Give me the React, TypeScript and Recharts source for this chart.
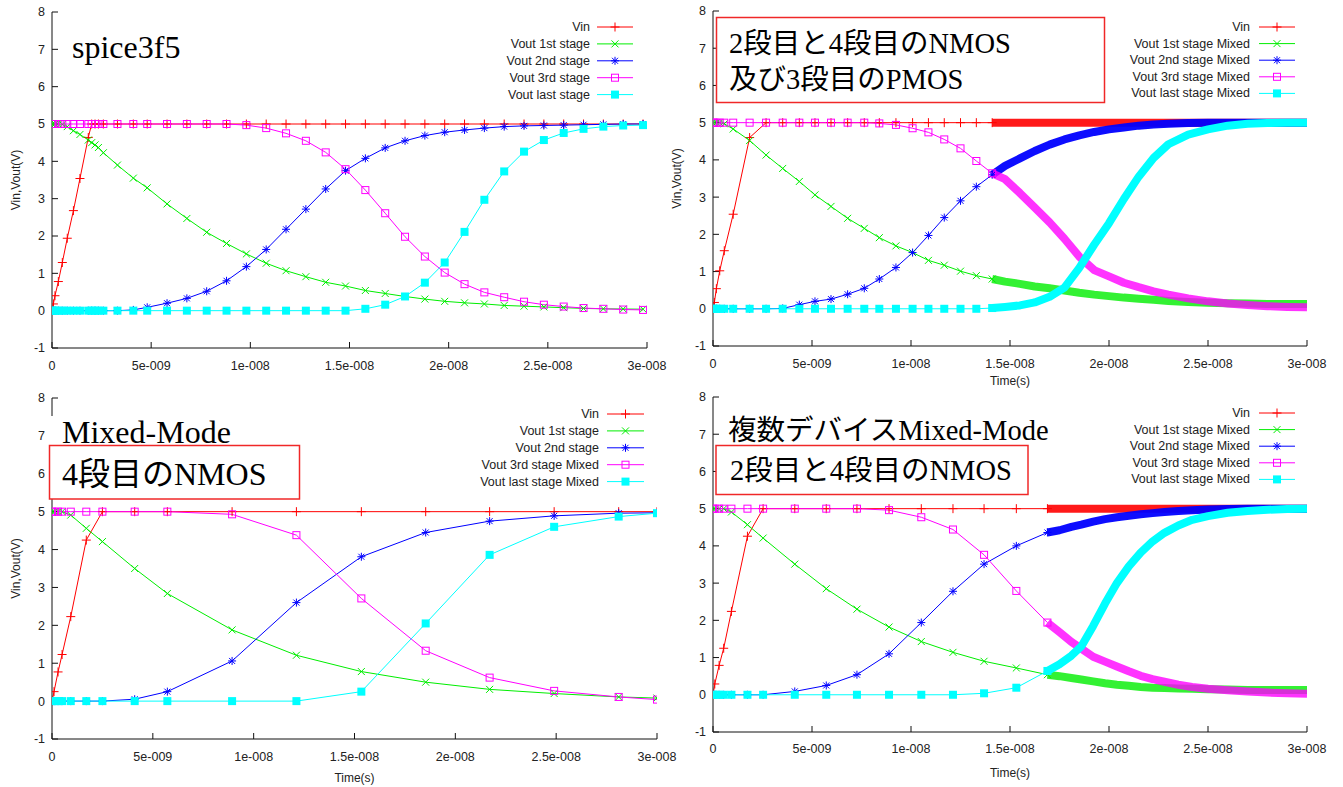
import React from "react";
import { LineChart, Line, XAxis, YAxis, Legend } from "recharts";

// time axis is in ns, labelled the way gnuplot prints seconds
const xTicks = [0, 5, 10, 15, 20, 25, 30];
const xTickLabels = ["0", "5e-009", "1e-008", "1.5e-008", "2e-008", "2.5e-008", "3e-008"];
const yTicks = [-1, 0, 1, 2, 3, 4, 5, 6, 7, 8];

const namesPlain = ["Vin", "Vout 1st stage", "Vout 2nd stage", "Vout 3rd stage", "Vout last stage"];
const namesMixed = ["Vin", "Vout 1st stage Mixed", "Vout 2nd stage Mixed", "Vout 3rd stage Mixed", "Vout last stage Mixed"];
const namesHalf = ["Vin", "Vout 1st stage", "Vout 2nd stage", "Vout 3rd stage Mixed", "Vout last stage Mixed"];

// --- spice3f5 (top left)
const tlTime = [0, 0.07, 0.15, 0.32, 0.52, 0.77, 1.08, 1.41, 1.83, 2.0, 2.17, 2.34, 2.59, 3.3, 4.1, 4.8, 5.8, 6.8, 7.8, 8.8, 9.8, 10.8, 11.8, 12.8, 13.8, 14.8, 15.8, 16.8, 17.8, 18.8, 19.8, 20.8, 21.8, 22.8, 23.8, 24.8, 25.8, 26.8, 27.8, 28.8, 29.8];
const tlVin = [0, 0.18, 0.4, 0.78, 1.29, 1.94, 2.68, 3.54, 4.64, 5, 5, 5, 5, 5, 5, 5, 5, 5, 5, 5, 5, 5, 5, 5, 5, 5, 5, 5, 5, 5, 5, 5, 5, 5, 5, 5, 5, 5, 5, 5, 5];
const tlV1 = [5, 5, 5, 5, 4.99, 4.93, 4.82, 4.72, 4.57, 4.5, 4.44, 4.37, 4.23, 3.9, 3.55, 3.29, 2.86, 2.47, 2.1, 1.8, 1.52, 1.27, 1.07, 0.91, 0.76, 0.66, 0.54, 0.46, 0.38, 0.31, 0.25, 0.21, 0.18, 0.14, 0.12, 0.1, 0.08, 0.06, 0.05, 0.045, 0.04];
const tlV2 = [0, 0, 0, 0, 0, 0, 0, 0, 0, 0, 0, 0, 0, 0, 0.02, 0.09, 0.2, 0.33, 0.52, 0.8, 1.18, 1.64, 2.18, 2.72, 3.26, 3.75, 4.08, 4.36, 4.55, 4.69, 4.78, 4.84, 4.89, 4.93, 4.95, 4.96, 4.97, 4.98, 4.99, 5, 5];
const tlV3 = [5, 5, 5, 5, 5, 5, 5, 5, 5, 5, 5, 5, 5, 5, 5, 5, 5, 5, 5, 5, 4.97, 4.89, 4.75, 4.55, 4.24, 3.79, 3.23, 2.61, 1.98, 1.45, 1.02, 0.71, 0.49, 0.36, 0.24, 0.16, 0.11, 0.07, 0.05, 0.03, 0.02];
const tlV4 = [0, 0, 0, 0, 0, 0, 0, 0, 0, 0, 0, 0, 0, 0, 0, 0, 0, 0, 0, 0, 0, 0, 0, 0, 0, 0, 0.05, 0.16, 0.38, 0.75, 1.29, 2.11, 2.97, 3.73, 4.26, 4.57, 4.76, 4.87, 4.93, 4.96, 4.97];

// --- NMOS 2,4 + PMOS 3 mixed (top right)
const trTime = [0, 0.07, 0.17, 0.34, 0.57, 1.02, 1.85, 2.68, 3.52, 4.36, 5.15, 5.96, 6.8, 7.64, 8.4, 9.24, 10.08, 10.88, 11.68, 12.5, 13.3, 14.1];
const trVin = [0, 0.17, 0.54, 1.02, 1.56, 2.54, 4.6, 5, 5, 5, 5, 5, 5, 5, 5, 5, 5, 5, 5, 5, 5, 5];
const trV1 = [5, 5, 5, 5, 4.97, 4.83, 4.52, 4.13, 3.77, 3.42, 3.06, 2.75, 2.43, 2.16, 1.91, 1.69, 1.51, 1.3, 1.17, 1.01, 0.89, 0.8];
const trV2 = [0, 0, 0, 0, 0, 0, 0, 0, 0.01, 0.11, 0.2, 0.26, 0.39, 0.55, 0.8, 1.11, 1.51, 1.97, 2.45, 2.9, 3.28, 3.6];
const trV3 = [5, 5, 5, 5, 5, 5, 5, 5, 5, 5, 5, 5, 5, 5, 4.98, 4.94, 4.85, 4.74, 4.55, 4.31, 3.97, 3.64];
const trV4 = [0, 0, 0, 0, 0, 0, 0, 0, 0, 0, 0, 0, 0, 0, 0, 0, 0, 0, 0, 0, 0, 0.02];
const trDenseTime = [14.1, 14.75, 15.5, 16.25, 17, 17.75, 18.5, 19.25, 20, 20.75, 21.5, 22.25, 23, 24, 25, 26, 27, 28, 29, 30];
const trDenseVin = [5, 5, 5, 5, 5, 5, 5, 5, 5, 5, 5, 5, 5, 5, 5, 5, 5, 5, 5, 5];
const trDenseV1 = [0.8, 0.73, 0.67, 0.6, 0.55, 0.49, 0.43, 0.38, 0.34, 0.3, 0.27, 0.24, 0.21, 0.18, 0.16, 0.15, 0.14, 0.13, 0.13, 0.13];
const trDenseV2 = [3.6, 3.84, 4.04, 4.24, 4.41, 4.55, 4.66, 4.75, 4.82, 4.87, 4.92, 4.95, 4.97, 4.99, 5, 5, 5, 5, 5, 5];
const trDenseV3 = [3.64, 3.48, 3.11, 2.72, 2.32, 1.88, 1.4, 1.04, 0.87, 0.7, 0.58, 0.47, 0.38, 0.28, 0.2, 0.14, 0.1, 0.07, 0.05, 0.04];
const trDenseV4 = [0.02, 0.05, 0.09, 0.17, 0.32, 0.57, 1.1, 1.72, 2.3, 2.95, 3.55, 4.05, 4.42, 4.68, 4.82, 4.92, 4.97, 4.99, 5, 5];

// --- Mixed-Mode, NMOS 4 (bottom left)
const blTime = [0, 0.1, 0.3, 0.5, 0.93, 1.7, 2.5, 4.1, 5.72, 8.93, 12.12, 15.34, 18.53, 21.7, 24.9, 28.1, 30];
const blVin = [0, 0.25, 0.77, 1.23, 2.23, 4.25, 5, 5, 5, 5, 5, 5, 5, 5, 5, 5, 5];
const blV1 = [5, 5, 5, 5, 4.91, 4.56, 4.21, 3.5, 2.84, 1.88, 1.21, 0.78, 0.5, 0.31, 0.2, 0.11, 0.08];
const blV2 = [0, 0, 0, 0, 0, 0, 0, 0.05, 0.25, 1.06, 2.6, 3.81, 4.45, 4.75, 4.89, 4.96, 4.97];
const blV3 = [5, 5, 5, 5, 5, 5, 5, 5, 5, 4.93, 4.38, 2.71, 1.33, 0.62, 0.27, 0.11, 0.04];
const blV4 = [0, 0, 0, 0, 0, 0, 0, 0, 0, 0, 0, 0.25, 2.05, 3.86, 4.6, 4.87, 4.96];

// --- multi-device Mixed-Mode, NMOS 2,4 (bottom right)
const brTime = [0, 0.09, 0.31, 0.54, 0.93, 1.74, 2.53, 4.13, 5.72, 7.27, 8.89, 10.52, 12.12, 13.69, 15.32, 16.89];
const brVin = [0, 0.29, 0.79, 1.25, 2.24, 4.26, 5, 5, 5, 5, 5, 5, 5, 5, 5, 5];
const brV1 = [5, 5, 5, 5, 4.91, 4.57, 4.21, 3.51, 2.85, 2.3, 1.82, 1.43, 1.14, 0.9, 0.72, 0.54];
const brV2 = [0, 0, 0, 0, 0, 0, 0, 0.09, 0.25, 0.54, 1.1, 1.94, 2.78, 3.51, 4.0, 4.36];
const brV3 = [5, 5, 5, 5, 5, 5, 5, 5, 5, 5, 4.96, 4.77, 4.44, 3.76, 2.79, 1.94];
const brV4 = [0, 0, 0, 0, 0, 0, 0, 0, 0, 0, 0, 0, 0, 0.04, 0.19, 0.64];
const brDenseTime = [16.89, 17.5, 18.1, 18.6, 19.2, 19.8, 20.4, 21, 21.6, 22.2, 22.8, 23.5, 24.2, 25, 26, 27, 28, 29, 30];
const brDenseVin = [5, 5, 5, 5, 5, 5, 5, 5, 5, 5, 5, 5, 5, 5, 5, 5, 5, 5, 5];
const brDenseV1 = [0.54, 0.5, 0.45, 0.41, 0.36, 0.31, 0.27, 0.24, 0.21, 0.19, 0.18, 0.17, 0.16, 0.15, 0.14, 0.13, 0.13, 0.13, 0.13];
const brDenseV2 = [4.36, 4.42, 4.51, 4.57, 4.65, 4.72, 4.77, 4.81, 4.85, 4.88, 4.91, 4.94, 4.96, 4.98, 4.99, 5, 5, 5, 5];
const brDenseV3 = [1.94, 1.68, 1.42, 1.24, 1.02, 0.89, 0.76, 0.63, 0.51, 0.42, 0.35, 0.27, 0.21, 0.16, 0.12, 0.09, 0.06, 0.04, 0.03];
const brDenseV4 = [0.64, 0.82, 1.05, 1.3, 1.85, 2.45, 3.0, 3.45, 3.82, 4.12, 4.35, 4.55, 4.7, 4.8, 4.89, 4.94, 4.97, 4.99, 5];

const COLORS = ["#ff0000", "#00ee00", "#0000ff", "#ff00ff", "#00ffff"];
const DENSE_OPACITY = [0.9, 0.8, 0.95, 0.8, 1];
const SHAPES = ["plus", "cross", "star", "box", "boxF"];
const SANS = "'Liberation Sans', Arial, sans-serif";
const SERIF = "'Liberation Serif', 'Noto Sans CJK JP', serif";
const RED_BOX = "#f02828";

type Row = { t: number; v: number };
const rows = (t: number[], v: number[]): Row[] => t.map((x, i) => ({ t: x, v: v[i] }));

function Marker({ shape, x, y, color }: { shape: string; x: number; y: number; color: string }) {
  const s = { stroke: color, strokeWidth: 1, fill: "none" };
  if (shape === "plus") return <path d={`M${x - 4.5},${y}H${x + 4.5}M${x},${y - 4.5}V${y + 4.5}`} {...s} />;
  if (shape === "cross") return <path d={`M${x - 3.5},${y - 3.5}L${x + 3.5},${y + 3.5}M${x - 3.5},${y + 3.5}L${x + 3.5},${y - 3.5}`} {...s} />;
  if (shape === "star")
    return <path d={`M${x - 4},${y}H${x + 4}M${x},${y - 4}V${y + 4}M${x - 3},${y - 3}L${x + 3},${y + 3}M${x - 3},${y + 3}L${x + 3},${y - 3}`} {...s} />;
  if (shape === "box") return <rect x={x - 3.5} y={y - 3.5} width={7} height={7} {...s} />;
  return <rect x={x - 4} y={y - 4} width={8} height={8} fill={color} />;
}

interface PanelDef {
  box: number[]; // left, top, width, height on the page
  plot: number[]; // x0, y0, x1, y1 on the page
  names: string[];
  series: { sparse: Row[]; dense?: Row[] }[];
  legend: { right: number; x0: number; x1: number; y: number; step: number };
  tickGap: number;
  yLabel?: number;
  xLabel?: number;
  notes: React.ReactNode;
}

const panels: PanelDef[] = [
  {
    box: [0, 0, 670, 390],
    plot: [52, 12, 647, 348],
    names: namesPlain,
    series: [
      { sparse: rows(tlTime, tlVin) },
      { sparse: rows(tlTime, tlV1) },
      { sparse: rows(tlTime, tlV2) },
      { sparse: rows(tlTime, tlV3) },
      { sparse: rows(tlTime, tlV4) },
    ],
    legend: { right: 590, x0: 597, x1: 633, y: 27, step: 16.9 },
    tickGap: 19,
    yLabel: 16,
    notes: (
      <text x={72} y={58} fontSize={32} fontFamily={SERIF} fill="#000">spice3f5</text>
    ),
  },
  {
    box: [670, 0, 673, 390],
    plot: [713, 11, 1307, 346],
    names: namesMixed,
    series: [
      { sparse: rows(trTime, trVin), dense: rows(trDenseTime, trDenseVin) },
      { sparse: rows(trTime, trV1), dense: rows(trDenseTime, trDenseV1) },
      { sparse: rows(trTime, trV2), dense: rows(trDenseTime, trDenseV2) },
      { sparse: rows(trTime, trV3), dense: rows(trDenseTime, trDenseV3) },
      { sparse: rows(trTime, trV4), dense: rows(trDenseTime, trDenseV4) },
    ],
    legend: { right: 1250, x0: 1259, x1: 1295, y: 27, step: 16.6 },
    tickGap: 19,
    yLabel: 7,
    xLabel: 5,
    notes: (
      <g fontFamily={SERIF} fontSize={28.5} fill="#000">
        <rect x={716.5} y={17.5} width={388} height={85} fill="#fff" stroke={RED_BOX} strokeWidth={1.5} />
        <text x={729} y={53}>2段目と4段目のNMOS</text>
        <text x={729} y={89}>及び3段目のPMOS</text>
      </g>
    ),
  },
  {
    box: [0, 390, 680, 397],
    plot: [52, 398, 657, 739],
    names: namesHalf,
    series: [
      { sparse: rows(blTime, blVin) },
      { sparse: rows(blTime, blV1) },
      { sparse: rows(blTime, blV2) },
      { sparse: rows(blTime, blV3) },
      { sparse: rows(blTime, blV4) },
    ],
    legend: { right: 599, x0: 607, x1: 644, y: 414, step: 16.9 },
    tickGap: 19,
    yLabel: 16,
    xLabel: 5,
    notes: (
      <g fontFamily={SERIF} fontSize={32} fill="#000">
        <rect x={50} y={416} width={196} height={30} fill="#fff" />
        <text x={62} y={443}>Mixed-Mode</text>
        <rect x={49.5} y={445.5} width={250} height={53.5} fill="#fff" stroke={RED_BOX} strokeWidth={1.5} />
        <text x={62} y={485}>4段目のNMOS</text>
      </g>
    ),
  },
  {
    box: [678, 390, 665, 397],
    plot: [713, 397, 1307, 732],
    names: namesMixed,
    series: [
      { sparse: rows(brTime, brVin), dense: rows(brDenseTime, brDenseVin) },
      { sparse: rows(brTime, brV1), dense: rows(brDenseTime, brDenseV1) },
      { sparse: rows(brTime, brV2), dense: rows(brDenseTime, brDenseV2) },
      { sparse: rows(brTime, brV3), dense: rows(brDenseTime, brDenseV3) },
      { sparse: rows(brTime, brV4), dense: rows(brDenseTime, brDenseV4) },
    ],
    legend: { right: 1250, x0: 1259, x1: 1295, y: 413, step: 16.6 },
    tickGap: 18,
    xLabel: 10.5,
    notes: (
      <g fontFamily={SERIF} fontSize={28.5} fill="#000">
        <text x={728} y={440}>複数デバイスMixed-Mode</text>
        <rect x={716} y={445.5} width={312} height={49} fill="#fff" stroke={RED_BOX} strokeWidth={1.5} />
        <text x={730} y={480}>2段目と4段目のNMOS</text>
      </g>
    ),
  },
];

const fmtX = (v: number) => xTickLabels[xTicks.indexOf(v)] ?? "";
const tickStyle = { fill: "#222", fontSize: 12.5, fontFamily: SANS };
const labelStyle = { fill: "#222", fontSize: 12, fontFamily: SANS };

function LegendBox({ p }: { p: PanelDef }) {
  const [L, T, W, H] = p.box;
  const lg = p.legend;
  return (
    <svg width={W} height={H} style={{ display: "block" }}>
      <g transform={`translate(${-L},${-T})`}>
        {p.names.map((name, i) => {
          const y = lg.y + i * lg.step;
          return (
            <g key={name}>
              <text x={lg.right} y={y} textAnchor="end" dominantBaseline="central" fontSize={12.5} fontFamily={SANS} fill="#222">
                {name}
              </text>
              <line x1={lg.x0} x2={lg.x1} y1={y} y2={y} stroke={COLORS[i]} strokeWidth={1} />
              <Marker shape={SHAPES[i]} x={(lg.x0 + lg.x1) / 2} y={y} color={COLORS[i]} />
            </g>
          );
        })}
      </g>
    </svg>
  );
}

function Panel({ p }: { p: PanelDef }) {
  const [L, T, W, H] = p.box;
  const [x0, y0, x1, y1] = p.plot;
  const lines: React.ReactNode[] = [];
  p.series.forEach((s, i) => {
    lines.push(
      <Line
        key={`s${i}`}
        data={s.sparse}
        dataKey="v"
        name={p.names[i]}
        type="linear"
        stroke={COLORS[i]}
        strokeWidth={1}
        dot={(d: any) => <Marker key={`m${i}-${d.index}`} shape={SHAPES[i]} x={d.cx} y={d.cy} color={COLORS[i]} />}
        activeDot={false}
        isAnimationActive={false}
      />
    );
    if (s.dense)
      lines.push(
        <Line
          key={`d${i}`}
          data={s.dense}
          dataKey="v"
          type="linear"
          stroke={COLORS[i]}
          strokeOpacity={DENSE_OPACITY[i]}
          strokeWidth={8}
          strokeLinejoin="round"
          dot={false}
          activeDot={false}
          isAnimationActive={false}
        />
      );
  });

  return (
    <div style={{ position: "absolute", left: L, top: T, width: W, height: H, background: "#fff", overflow: "hidden" }}>
      <LineChart width={W} height={H} margin={{ top: y0 - T, right: L + W - x1, bottom: 0, left: 0 }}>
        <XAxis
          dataKey="t"
          type="number"
          domain={[0, 30]}
          ticks={xTicks}
          interval={0}
          allowDataOverflow
          height={T + H - y1}
          tickFormatter={fmtX}
          tickSize={-6}
          tickMargin={p.tickGap}
          stroke="#111"
          tick={tickStyle}
          label={p.xLabel !== undefined ? { value: "Time(s)", position: "insideBottom", offset: p.xLabel, style: labelStyle } : undefined}
        />
        <XAxis xAxisId="top" orientation="top" type="number" domain={[0, 30]} ticks={xTicks} interval={0} allowDataOverflow height={0} tick={false} tickSize={-6} stroke="#111" />
        <YAxis
          type="number"
          domain={[-1, 8]}
          ticks={yTicks}
          interval={0}
          allowDataOverflow
          width={x0 - L}
          tickSize={-6}
          tickMargin={13}
          stroke="#111"
          tick={tickStyle}
          label={p.yLabel !== undefined ? { value: "Vin,Vout(V)", angle: -90, position: "insideLeft", offset: p.yLabel, style: { ...labelStyle, textAnchor: "middle" } } : undefined}
        />
        <YAxis yAxisId="r" orientation="right" type="number" domain={[-1, 8]} ticks={yTicks} interval={0} allowDataOverflow width={0} tick={false} tickSize={-6} stroke="#111" />
        <Legend
          layout="vertical"
          align="center"
          verticalAlign="middle"
          wrapperStyle={{ left: 0, top: 0, width: W, height: H, pointerEvents: "none" }}
          content={() => <LegendBox p={p} />}
        />
        {lines}
      </LineChart>
      <svg width={W} height={H} style={{ position: "absolute", left: 0, top: 0, pointerEvents: "none" }}>
        <g transform={`translate(${-L},${-T})`}>{p.notes}</g>
      </svg>
    </div>
  );
}

export default function App() {
  return (
    <div style={{ position: "absolute", left: 0, top: 0, width: 1343, height: 787, background: "#fff", fontFamily: SANS }}>
      {panels.map((p, i) => (
        <Panel key={i} p={p} />
      ))}
    </div>
  );
}
